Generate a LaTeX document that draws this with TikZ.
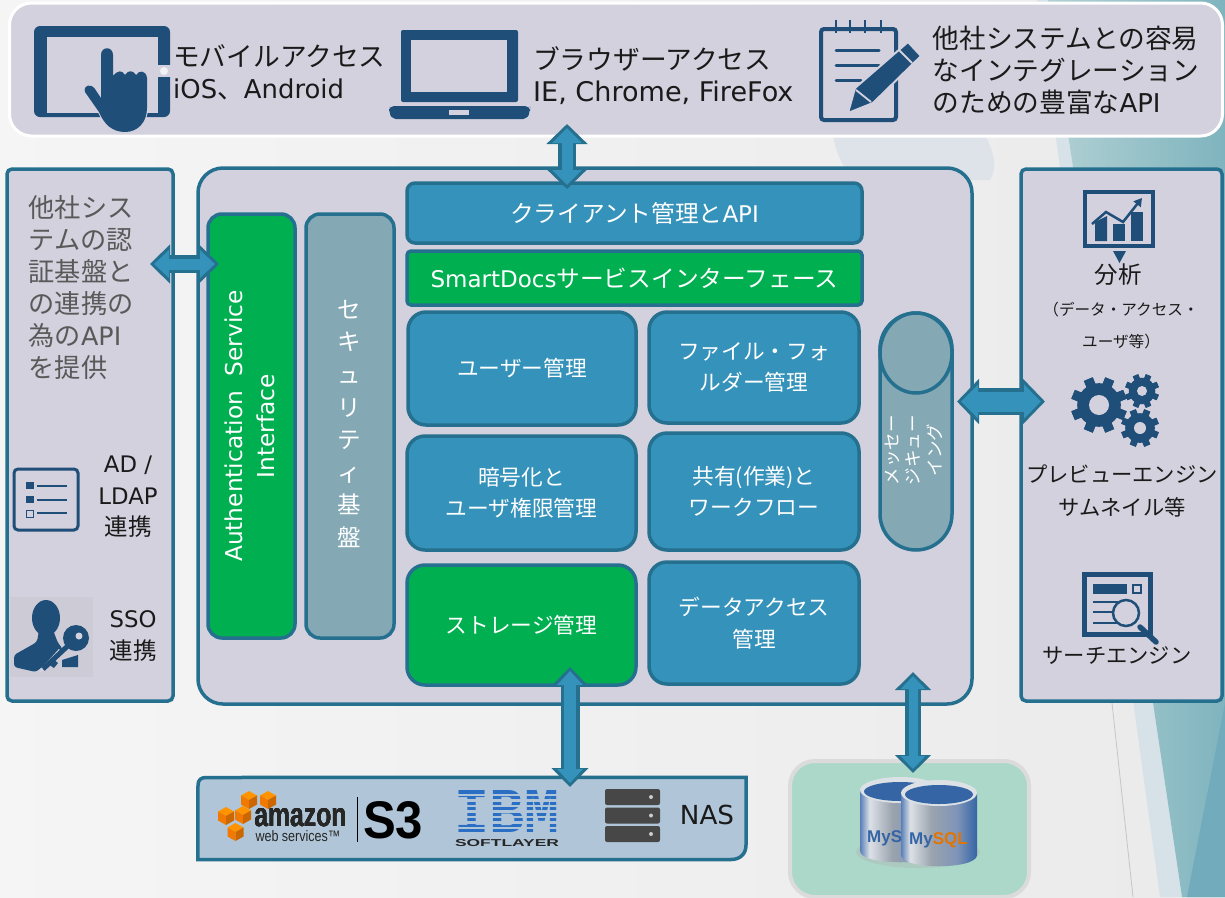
\documentclass[tikz,border=0pt]{standalone}
\usepackage{fontspec}
\usepackage{graphicx}
\setmainfont{Noto Sans CJK JP}
\newfontfamily\ltnfont[Scale=0.97]{DejaVu Sans}
\newfontfamily\awsfont{Liberation Sans}
\newfontfamily\ibmfont{Liberation Mono}
\usetikzlibrary{arrows.meta,calc}
\definecolor{panelgrey}{HTML}{D3D1DD}
\definecolor{edgeteal}{HTML}{26708F}
\definecolor{boxblue}{HTML}{3592BA}
\definecolor{boxgreen}{HTML}{00B050}
\definecolor{boxslate}{HTML}{84A9B5}
\definecolor{iconblue}{HTML}{1F4E79}
\definecolor{inktext}{HTML}{1A1A1A}
\definecolor{s3panel}{HTML}{B0C6D8}
\definecolor{dbpanel}{HTML}{ABD8C8}
\definecolor{dblue}{HTML}{3565A5}
\definecolor{dbleft}{HTML}{5A7FB8}
\definecolor{dbshine}{HTML}{DCE1E6}
\definecolor{dbmid}{HTML}{9AA3AE}
\definecolor{dbside}{HTML}{7E94B8}
\definecolor{ibmblue}{HTML}{2A6FC4}
\definecolor{hazeblue}{HTML}{DEE3EA}
\definecolor{bandblue}{HTML}{D6E2E8}
\definecolor{tealpale}{HTML}{B2D1D4}
\definecolor{tealdeep}{HTML}{7FB4BE}
\definecolor{tealwedge}{HTML}{72ABBB}
\pgfdeclarehorizontalshading{dbbody}{100bp}{color(0bp)=(dbleft); color(25bp)=(dbleft); color(31bp)=(dbshine); color(45bp)=(dbmid); color(62bp)=(dbside); color(75bp)=(dblue); color(100bp)=(dblue)}
\newcommand{\ltn}[1]{{\ltnfont #1}}
\tikzset{
	panel/.style={draw=edgeteal, line width=3.5pt, fill=panelgrey, inner sep=0pt},
	cardbox/.style={panel, rounded corners=18pt, text=white, align=center, font=\fontsize{21.7}{31.5}\selectfont},
	bluecard/.style={cardbox, fill=boxblue},
	greencard/.style={cardbox, fill=boxgreen},
	barbox/.style={panel, rounded corners=8pt, text=white, font=\fontsize{23.7}{30}\selectfont},
	inktxt/.style={text=inktext, inner sep=0pt, align=center},
	bigtxt/.style={inktxt, align=left, anchor=west, font=\fontsize{26.7}{32}\selectfont},
	sidetxt/.style={inktxt, font=\fontsize{23.5}{31.5}\selectfont},
	engtxt/.style={inktxt, font=\fontsize{21.3}{33}\selectfont},
}
\def\blockarrow[#1:#2:#3](#4)(#5){
	\draw[line width=#3pt, color=edgeteal, {Triangle[width=#1pt,length=#2pt]}-{Triangle[width=#1pt,length=#2pt]}] (#4) -- (#5);
	\draw[line width=#3pt-7pt, color=boxblue, shorten >=4pt, shorten <=4pt, {Triangle[width=#1pt-11pt,length=#2pt-5pt]}-{Triangle[width=#1pt-11pt,length=#2pt-5pt]}] (#4) -- (#5);
}
\def\gearicon(#1,#2)(#3:#4){
	\foreach \a in {0,45,...,315}
		\fill[iconblue, shift={(#1,#2)}, rotate=\a+22.5] (-#3*0.17,-#3) rectangle (#3*0.17,#3);
	\fill[iconblue] (#1,#2) circle (#3*0.78);
	\fill[panelgrey] (#1,#2) circle (#4);
}
\def\awscube(#1,#2){
	\fill[orange!85!yellow] (#1,#2) -- ++(-8,-4.5) -- ++(8,-4.5) -- ++(8,4.5) -- cycle;
	\fill[orange!95!black] (#1,#2) -- ++(-8,-4.5) -- ++(0,9) -- ++(8,4.5) -- cycle;
	\fill[orange!80!black] (#1,#2) -- ++(8,-4.5) -- ++(0,9) -- ++(-8,4.5) -- cycle;
}
\def\dbdrum(#1,#2,#3,#4){
	\shade[shading=dbbody] (#1-#3,#2) -- (#1-#3,#4-12) .. controls (#1-#3,#4+3) and (#1+#3,#4+3) .. (#1+#3,#4-12) -- (#1+#3,#2) -- cycle;
	\fill[dbshine] (#1,#2) ellipse ({#3} and 13);
	\fill[dblue] (#1,#2+1.5) ellipse ({#3-4} and 9.5);
}

\begin{document}
\begin{tikzpicture}[x=1pt,y=-1pt]
	\useasboundingbox (0,0) rectangle (1225,897);
	\clip (0,0) rectangle (1225,897);
	
	%%%%% backdrop %%%%%
	\shade[left color=white!96!black, right color=white!92!black] (0,0) rectangle (1225,897);
	\fill[hazeblue] (833,135) .. controls (838,165) and (850,175) .. (860,180) -- (990,180) .. controls (1000,165) and (990,145) .. (985,135) -- cycle;
	\fill[bandblue] (1037,0) -- (1048,0) -- (1182,897) -- (1160,897) -- cycle;
	\shade[left color=tealpale, right color=tealdeep] (1048,0) -- (1225,0) -- (1225,897) -- (1182,897) -- cycle;
	\fill[tealwedge] (1225,703) -- (1187,897) -- (1225,897) -- cycle;
	\draw[gray!45, line width=0.8pt] (1112,703) -- (1133,897);
	
	%%%%% panels %%%%%
	\node[draw=white, line width=3pt, fill=panelgrey, rounded corners=22pt, minimum width=1213pt, minimum height=133pt] (clients) at (616,69.5) {};
	\node[panel, rounded corners=5pt, minimum width=166pt, minimum height=532pt] (authside) at (90,435) {};
	\node[panel, rounded corners=25pt, minimum width=774pt, minimum height=536pt] (core) at (585,436) {};
	\node[panel, rounded corners=5pt, minimum width=201pt, minimum height=532pt] (engines) at (1121.5,435) {};
	\node[draw=black!14, line width=4pt, fill=dbpanel, rounded corners=25pt, minimum width=239pt, minimum height=136pt] (dbbox) at (909.5,829) {};
	\node[minimum width=548pt, minimum height=82pt, inner sep=0pt] (s3box) at (472,818.5) {};
	\draw[panel, fill=s3panel] (s3box.south west) -- (198,785) .. controls (198,780) and (201,777.5) .. (206,777.5) -- (s3box.north east) -- (746,845) .. controls (746,854) and (740,859.5) .. (731,859.5) -- cycle;
	
	%%%%% client row %%%%%
	\fill[iconblue, rounded corners=6pt] (34,26) rectangle (170,117);
	\fill[panelgrey] (47,37) rectangle (158,113);
	\fill[panelgrey] (158,65) rectangle (171,77);
	\fill[white!70!panelgrey] (164,71) circle (4);
	\draw[draw=panelgrey, line width=2pt] (101,55) .. controls (101,46) and (113,46) .. (113,55) -- (113,76) .. controls (118,70) and (122,70) .. (125,75) .. controls (128,70) and (133,70) .. (136,75) .. controls (139,70) and (146,70) .. (147,78) -- (147,108) .. controls (147,122) and (138,132) .. (125,132) .. controls (112,132) and (104,124) .. (99,112) -- (85,92) .. controls (83,85) and (91,83) .. (95,89) -- (101,98) -- cycle;
	\fill[iconblue] (101,55) .. controls (101,46) and (113,46) .. (113,55) -- (113,76) .. controls (118,70) and (122,70) .. (125,75) .. controls (128,70) and (133,70) .. (136,75) .. controls (139,70) and (146,70) .. (147,78) -- (147,108) .. controls (147,122) and (138,132) .. (125,132) .. controls (112,132) and (104,124) .. (99,112) -- (85,92) .. controls (83,85) and (91,83) .. (95,89) -- (101,98) -- cycle;
	\node[bigtxt] (mobiletxt) at (173,72) {モバイルアクセス\\\ltn{iOS}、\ltn{Android}};
	
	\fill[iconblue, rounded corners=2pt] (401,30) rectangle (518,102);
	\fill[panelgrey] (411,40) rectangle (507,92);
	\fill[iconblue, rounded corners=5pt] (389,106) -- (530,106) -- (530,111) .. controls (528,117) and (524,119) .. (518,119) -- (401,119) .. controls (395,119) and (391,117) .. (389,111) -- cycle;
	\fill[panelgrey] (449,110) rectangle (469,115);
	\node[bigtxt] (browsertxt) at (533,75.5) {ブラウザーアクセス\\\ltn{\fontsize{27.9}{32}\selectfont IE, Chrome, FireFox}};
	
	\draw[iconblue, line width=4pt, rounded corners=3pt] (821,29) rectangle (896,120);
	\foreach \tickx in {836,850,865,881}
		\draw[iconblue, line width=2pt] (\tickx,20) -- (\tickx,33);
	\draw[iconblue, line width=3pt, line cap=round] (836,50) -- (879,50);
	\draw[iconblue, line width=3pt, line cap=round] (836,65) -- (879,65);
	\draw[iconblue, line width=3pt, line cap=round] (836,80) -- (861,80);
	\fill[iconblue, draw=panelgrey, line width=2pt, rounded corners=1pt] (848,113) -- (855,88) -- (908,42) -- (921,56) -- (873,103) -- cycle;
	\draw[panelgrey, line width=1.8pt] (856,90) -- (871,102);
	\draw[panelgrey, line width=1.8pt] (899,50) -- (912,63);
	\node[bigtxt] (apitxt) at (932.5,70) {他社システムとの容易\\なインテグレーション\\のための豊富な\ltn{API}};
	
	%%%%% auth side %%%%%
	\node[bigtxt, text=black!65, font=\fontsize{26.2}{32}\selectfont, anchor=north west] (authtxt) at (28.5,195) {他社シス\\テムの認\\証基盤と\\の連携の\\為の\ltn{API}\\を提供};
	\draw[iconblue, line width=3pt, rounded corners=4pt] (14,469) rectangle (78,530);
	\foreach \rowy in {486,500}
		\fill[iconblue] (26,\rowy-4) rectangle (34,\rowy+3);
	\draw[iconblue, line width=0.8pt] (26.5,510.5) rectangle (33.5,517.5);
	\foreach \rowy in {486,500,513}
		\draw[iconblue, line width=2.5pt] (37,\rowy) -- (67,\rowy);
	\node[sidetxt] (ldaptxt) at (128,497) {\ltn{AD /}\\\ltn{LDAP}\\連携};
	\fill[black!3!panelgrey] (10,597) rectangle (93,677);
	\fill[iconblue] (46,618) ellipse (14 and 18);
	\fill[iconblue, rounded corners=3pt] (39,630) -- (53,630) -- (58,643) -- (63,649) -- (36,672) -- (14,667) -- (14,655) -- (37,642) -- cycle;
	\fill[iconblue] (62,667) -- (62,660) -- (78,655) -- (78,667) -- cycle;
	\draw[panelgrey, line width=3pt] (40,672) -- (60,650);
	\draw[iconblue, line width=5pt] (43,669) -- (72,642);
	\fill[iconblue] (76,638) circle (13);
	\fill[panelgrey] (79,636) circle (3.5);
	\fill[iconblue] (48,664) -- (54,668) -- (58,663) -- (52,658) -- cycle;
	\node[sidetxt] (ssotxt) at (133,636) {\ltn{SSO}\\連携};
	
	%%%%% core cards %%%%%
	\node[panel, fill=boxgreen, rounded corners=14pt, minimum width=87pt, minimum height=424pt] (authiface) at (251.5,426) {};
	\node[rotate=90, text=white, inner sep=0pt, align=center, font=\ltnfont\fontsize{24}{32}\selectfont] (authtag) at (250,426) {Authentication\ \ Service\\Interface};
	\node[panel, fill=boxslate, rounded corners=14pt, minimum width=88pt, minimum height=424pt] (secure) at (350,426) {};
	\node[text=white, inner sep=0pt, align=center, font=\fontsize{23.5}{32.6}\selectfont] (securetag) at (349,424) {セ\\キ\\ュ\\リ\\テ\\ィ\\基\\盤};
	\node[barbox, fill=boxblue, minimum width=455pt, minimum height=60pt] (clientapi) at (634.5,213) {クライアント管理と\ltn{API}};
	\node[barbox, fill=boxgreen, rounded corners=4pt, minimum width=455pt, minimum height=54pt] (smartdocs) at (634.5,278) {\ltn{SmartDocs}サービスインターフェース};
	\node[bluecard, minimum width=228pt, minimum height=113pt] (usermgmt) at (522,368.5) {ユーザー管理};
	\node[bluecard, minimum width=210pt, minimum height=111pt] (filemgmt) at (754,367.5) {ファイル・フォ\\ルダー管理};
	\node[bluecard, minimum width=229pt, minimum height=114pt] (cryptmgmt) at (521.5,493) {暗号化と\\ユーザ権限管理};
	\node[bluecard, minimum width=210pt, minimum height=117pt] (sharemgmt) at (754,491.5) {共有(作業)と\\ワークフロー};
	\node[greencard, minimum width=229pt, minimum height=120pt] (storemgmt) at (521.5,625) {ストレージ管理};
	\node[bluecard, minimum width=210pt, minimum height=122pt] (datamgmt) at (754,623) {データアクセス\\管理};
	
	\node[panel, fill=boxslate, rounded corners=36pt, minimum width=72pt, minimum height=237pt] (queue) at (916,431.5) {};
	\draw[panel, fill=boxslate] (916,353) ellipse (36 and 40);
	\node[rotate=90, text=white, inner sep=0pt, align=center, font=\fontsize{17.5}{21.5}\selectfont] (queuetag) at (913.5,450) {メッセー\\ジキュー\\イング};
	
	%%%%% engines side %%%%%
	\draw[iconblue, line width=4.5pt] (1085,192) rectangle (1153,246);
	\fill[iconblue] (1113,251) -- (1126,251) -- (1119.5,263) -- cycle;
	\fill[iconblue] (1095,222) -- (1107,216) -- (1107,241) -- (1095,241) -- cycle;
	\fill[iconblue] (1113,224) rectangle (1125,241);
	\fill[iconblue] (1131,212) rectangle (1143,241);
	\draw[iconblue, line width=2.5pt, -{Triangle[width=9pt,length=8pt]}] (1092,224) -- (1106,212) -- (1123,222) -- (1142,198);
	\node[inktxt, font=\fontsize{23.5}{28}\selectfont] (analysistxt) at (1118,275) {分析};
	\node[inktxt, font=\fontsize{15.6}{32}\selectfont] (analysisnote) at (1121,326) {（データ・アクセス・\\ユーザ等）};
	\gearicon(1099,405)(28:10)
	\gearicon(1142,391)(17:5)
	\gearicon(1140,428)(19:6)
	\node[engtxt] (previewtxt) at (1122,491) {プレビューエンジン\\サムネイル等};
	\draw[iconblue, line width=5pt] (1084.5,574.5) rectangle (1150.5,634);
	\fill[iconblue] (1093,584) rectangle (1127,594);
	\draw[iconblue, line width=2.5pt] (1133,585) rectangle (1141,593);
	\foreach \rowy in {602,612,623}
		\draw[iconblue, line width=2.5pt] (1093,\rowy) -- (1118,\rowy);
	\draw[iconblue, line width=2.5pt, fill=panelgrey] (1126,613) circle (13);
	\draw[iconblue, line width=5.5pt, line cap=round] (1140,627) -- (1156,642);
	\node[engtxt] (searchtxt) at (1117,656) {サーチエンジン};
	
	%%%%% storage row %%%%%
	\foreach \cubex/\cubey in {249/800,268/800,226/816,243/815,235.5/832}
		\awscube(\cubex,\cubey)
	\node[inner sep=0pt, text=black!85, font=\awsfont\bfseries] (amazontxt) at (300.5,817.5) {\resizebox{92pt}{18pt}{amazon}};
	\node[inner sep=0pt, text=black!85, font=\awsfont] (webtxt) at (298,836.5) {\resizebox{85pt}{11pt}{web services™}};
	\draw[black, line width=1pt] (357,797) -- (357,842);
	\node[inner sep=0pt, text=black, font=\awsfont\bfseries] (s3txt) at (393,820) {\resizebox{60pt}{37pt}{S3}};
	\node[inner sep=0pt, text=ibmblue, font=\ibmfont\bfseries] (ibmtxt) at (507.5,811) {\resizebox{105pt}{42pt}{IBM}};
	\foreach \gapy in {795,800.5,806,811.5,817,822.5,828}
		\draw[s3panel, line width=2.2pt] (452,\gapy) -- (563,\gapy);
	\node[inner sep=0pt, text=black!85, font=\awsfont\bfseries] (softtxt) at (507,843) {\resizebox{104pt}{7pt}{SOFTLAYER}};
	\foreach \boxy in {789,807.5,826}
		\fill[black!72, rounded corners=2pt] (605,\boxy) rectangle (660,\boxy+16);
	\foreach \boxy in {797,815.5,834}
		\fill[white!80!black] (651,\boxy) circle (2);
	\node[inktxt, font=\ltnfont\fontsize{27}{32}\selectfont] (nastxt) at (707,815) {NAS};
	
	%%%%% database %%%%%
	\fill[black!30, opacity=0.35] (918,852) ellipse (62 and 16);
	\dbdrum(900,790,40,863)
	\node[anchor=west, inner sep=0pt, text=dblue, font=\awsfont\bfseries\fontsize{17}{20}\selectfont] (mysqlback) at (867,838) {MyS};
	\dbdrum(939,793,38,867)
	\node[inner sep=0pt, text=dblue, font=\awsfont\bfseries\fontsize{17}{20}\selectfont] (mysqlfront) at (938.5,840) {My\textcolor{orange!90!black}{SQL}};
	
	%%%%% connectors %%%%%
	\coordinate (clientsend) at (567,124);
	\coordinate (clientapiend) at (567,189);
	\coordinate (authleft) at (150,264);
	\coordinate (authright) at (219,264);
	\coordinate (queueend) at (957,401.5);
	\coordinate (enginesend) at (1045,401.5);
	\coordinate (storeend) at (570,667);
	\coordinate (s3end) at (570,787);
	\coordinate (coreend) at (913,672);
	\coordinate (dbend) at (913,773);
	\blockarrow[40:20:18](clientsend)(clientapiend)
	\blockarrow[38:20:18](authleft)(authright)
	\blockarrow[44:22:27](queueend)(enginesend)
	\blockarrow[36:19:19](storeend)(s3end)
	\blockarrow[35:18:16](coreend)(dbend)
\end{tikzpicture}
\end{document}
